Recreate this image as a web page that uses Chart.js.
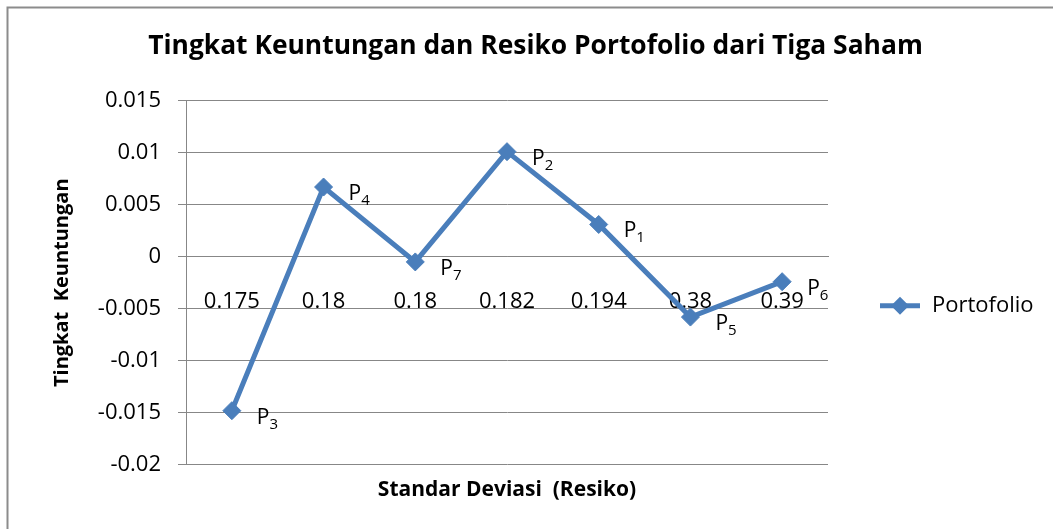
<!DOCTYPE html>
<html>
<head>
<meta charset="utf-8">
<script src="https://cdn.jsdelivr.net/npm/chart.js@4/dist/chart.umd.min.js"></script>
<style>
  html, body { margin: 0; padding: 0; background: #fff; }
  #wrap { width: 1053px; height: 529px; position: relative; }
</style>
</head>
<body>
<div id="wrap"><canvas id="lineChart"></canvas></div>
<script>
// categories = standar deviasi of each portfolio
const categories = ['0.175', '0.18', '0.18', '0.182', '0.194', '0.38', '0.39'];
// tingkat keuntungan per portfolio
const portofolio = [-0.0148, 0.0067, -0.0005, 0.0101, 0.0031, -0.0058, -0.0024];
// subscript of point name P<n>
const pointNames = ['3', '4', '7', '2', '1', '5', '6'];
const yTicks = [0.015, 0.01, 0.005, 0, -0.005, -0.01, -0.015, -0.02];

const seriesColor = '#4A7EBB';
const gridColor = '#878787';
const baseFont = "'Open Sans', sans-serif";

/**
 * White background and the chart frame (top and left edge only,
 * the reference is cropped on the other sides).
 */
const framePlugin = {
    id: 'frame',
    beforeDraw(chart) {
        const ctx = chart.ctx;
        ctx.save();
        ctx.fillStyle = '#fff';
        ctx.fillRect(0, 0, chart.width, chart.height);
        ctx.strokeStyle = '#8c8c8c';
        ctx.lineWidth = 2;
        ctx.beginPath();
        ctx.moveTo(7.5, chart.height);
        ctx.lineTo(7.5, 7.5);
        ctx.lineTo(chart.width, 7.5);
        ctx.stroke();
        ctx.restore();
    }
};

/**
 * Draw "P" with a subscript number next to each point.
 */
const pointLabelPlugin = {
    id: 'pointLabels',
    afterDatasetsDraw(chart) {
        const ctx = chart.ctx;
        const meta = chart.getDatasetMeta(0);
        ctx.save();
        ctx.fillStyle = '#000';
        ctx.textBaseline = 'alphabetic';
        meta.data.forEach((pt, i) => {
            const x = pt.x + 25;
            const y = pt.y + 13;
            ctx.font = '21px ' + baseFont;
            ctx.fillText('P', x, y);
            const w = ctx.measureText('P').width;
            ctx.font = '15px ' + baseFont;
            ctx.fillText(pointNames[i], x + w, y + 5);
        });
        ctx.restore();
    }
};

/**
 * Legend in Excel style: line with a diamond marker.
 */
const legendPlugin = {
    id: 'excelLegend',
    afterDraw(chart) {
        const ctx = chart.ctx;
        const ds = chart.data.datasets[0];
        const x0 = chart.chartArea.right + 52;
        const y = chart.chartArea.top + 205;
        ctx.save();
        ctx.strokeStyle = ds.borderColor;
        ctx.lineWidth = 5;
        ctx.beginPath();
        ctx.moveTo(x0, y);
        ctx.lineTo(x0 + 40, y);
        ctx.stroke();
        ctx.fillStyle = ds.borderColor;
        ctx.beginPath();
        ctx.moveTo(x0 + 20, y - 9);
        ctx.lineTo(x0 + 29, y);
        ctx.lineTo(x0 + 20, y + 9);
        ctx.lineTo(x0 + 11, y);
        ctx.closePath();
        ctx.fill();
        ctx.fillStyle = '#000';
        ctx.font = '22px ' + baseFont;
        ctx.textBaseline = 'middle';
        ctx.fillText(ds.label, x0 + 52, y);
        ctx.restore();
    }
};

function showLineChart() {
    const ctx = document.getElementById('lineChart');
    new Chart(ctx, {
        type: 'line',
        data: {
            labels: categories,
            datasets: [{
                label: 'Portofolio',
                data: portofolio,
                fill: false,
                borderColor: seriesColor,
                backgroundColor: seriesColor,
                borderWidth: 5,
                tension: 0,
                pointStyle: 'rectRot',
                pointRadius: 9,
                pointHoverRadius: 9,
                pointBackgroundColor: seriesColor,
                pointBorderColor: seriesColor,
                pointBorderWidth: 1
            }]
        },
        options: {
            responsive: true,
            maintainAspectRatio: false,
            animation: false,
            layout: { padding: { left: 28, right: 10, top: 0, bottom: 0 } },
            plugins: {
                legend: { display: false },
                tooltip: { enabled: false },
                title: {
                    display: true,
                    text: 'Tingkat Keuntungan dan Resiko Portofolio dari Tiga Saham',
                    color: '#000',
                    font: { family: baseFont, size: 26.4, weight: 'bold' },
                    padding: { top: 31, bottom: 38 }
                },
                subtitle: {
                    display: true,
                    position: 'bottom',
                    fullSize: false,
                    text: 'Standar Deviasi  (Resiko)',
                    color: '#000',
                    font: { family: baseFont, size: 21, weight: 'bold' },
                    padding: { top: 13, bottom: 26 }
                }
            },
            scales: {
                x: {
                    position: { y: 0 },
                    offset: true,
                    grid: { display: false, offset: true },
                    border: { display: true, color: gridColor, width: 1 },
                    ticks: {
                        color: '#000',
                        font: { family: baseFont, size: 22 },
                        padding: 24,
                        maxRotation: 0,
                        autoSkip: false
                    }
                },
                y: {
                    min: -0.02,
                    max: 0.015,
                    afterBuildTicks: scale => {
                        scale.ticks = yTicks.map(v => ({ value: v }));
                    },
                    afterFit: scale => { scale.width = 158; },
                    grid: { color: gridColor, lineWidth: 1, tickLength: 8 },
                    border: { display: true, color: gridColor, width: 1 },
                    ticks: {
                        color: '#000',
                        font: { family: baseFont, size: 22 },
                        padding: 17,
                        callback: v => String(v)
                    },
                    title: {
                        display: true,
                        text: 'Tingkat  Keuntungan',
                        color: '#000',
                        font: { family: baseFont, size: 20, weight: 'bold' },
                        padding: { top: 22, bottom: 0 }
                    }
                },
                yRight: {
                    position: 'right',
                    display: true,
                    min: 0,
                    max: 1,
                    afterFit: scale => { scale.width = 215; },
                    grid: { display: false },
                    border: { display: false },
                    ticks: { display: false }
                }
            }
        },
        plugins: [framePlugin, pointLabelPlugin, legendPlugin]
    });
}

showLineChart();
</script>
</body>
</html>
